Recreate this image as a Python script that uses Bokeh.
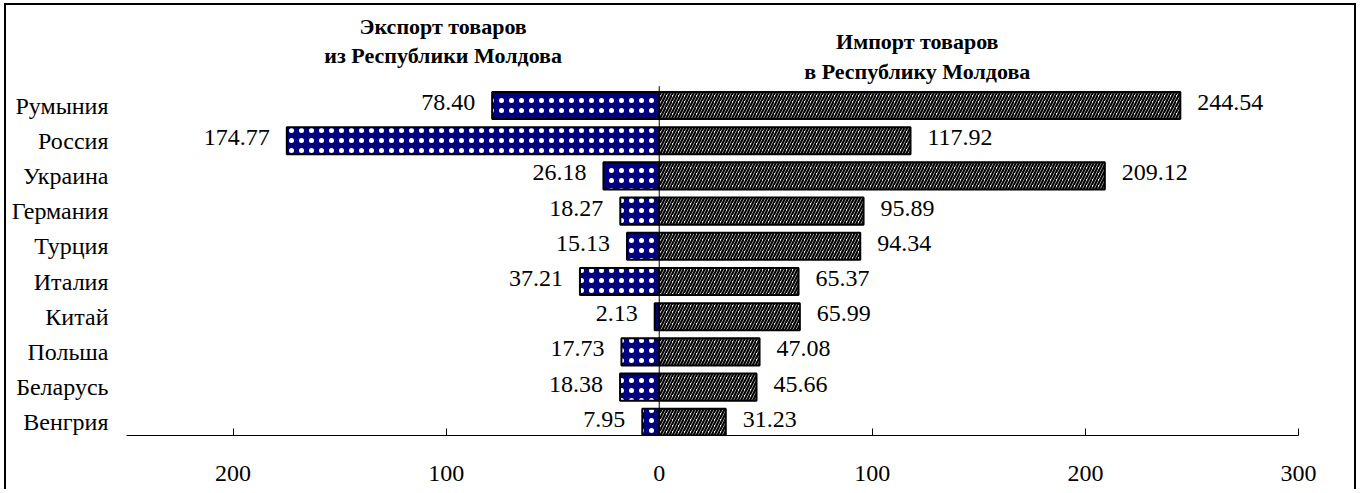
from bokeh.plotting import figure
from bokeh.models import Range1d, LinearAxis, FixedTicker, ColumnDataSource
from bokeh.core.properties import value
from bokeh.embed import file_html
from bokeh.resources import INLINE

countries = ["Румыния", "Россия", "Украина", "Германия", "Турция",
             "Италия", "Китай", "Польша", "Беларусь", "Венгрия"]
exports = [78.40, 174.77, 26.18, 18.27, 15.13, 37.21, 2.13, 17.73, 18.38, 7.95]
imports = [244.54, 117.92, 209.12, 95.89, 94.34, 65.37, 65.99, 47.08, 45.66, 31.23]
x_ticks = [-200, -100, 0, 100, 200, 300]
export_title = ["Экспорт товаров", "из Республики Молдова"]
import_title = ["Импорт товаров", "в Республику Молдова"]

FONT_NAME = "Times New Roman"
FONT = value(FONT_NAME)
idx = list(range(len(countries)))

src = ColumnDataSource(dict(
    y=idx,
    exp_left=[-v for v in exports],
    exp=exports,
    imp=imports,
    zero=[0] * len(idx),
    exp_lbl=[f"{v:.2f}" for v in exports],
    imp_lbl=[f"{v:.2f}" for v in imports],
))

p = figure(width=1352, height=486,
           x_range=Range1d(-250, 300), y_range=Range1d(9.375, -2.841),
           output_backend="svg", toolbar_location=None,
           x_axis_location=None, y_axis_location=None,
           min_border_left=120, min_border_right=60,
           min_border_top=0, min_border_bottom=56)
p.grid.visible = False
p.outline_line_color = None
p.background_fill_color = "white"
p.border_fill_color = "white"
p.styles = {"border-top": "2px solid black", "border-left": "2px solid black",
            "border-right": "2px solid black",
            "margin-left": "4px", "margin-top": "3px"}

# bars
p.hbar(y="y", left="exp_left", right="zero", height=0.77, source=src,
       fill_color="#000080", line_color="black", line_width=2,
       hatch_pattern="dot", hatch_color="white", hatch_scale=10, hatch_weight=1)
p.hbar(y="y", left="zero", right="imp", height=0.77, source=src,
       fill_color="white", line_color="black", line_width=2,
       hatch_pattern="right_diagonal_line", hatch_color="black",
       hatch_scale=6, hatch_weight=2.2)

# zero line
p.segment(x0=0, y0=-0.55, x1=0, y1=9.375, line_color="black", line_width=1)

# value labels
p.text(x="exp_left", y="y", text="exp_lbl", source=src, x_offset=-17, y_offset=-3,
       text_align="right", text_baseline="middle", text_font=FONT,
       text_font_size="24px", text_color="black")
p.text(x="imp", y="y", text="imp_lbl", source=src, x_offset=17, y_offset=-3,
       text_align="left", text_baseline="middle", text_font=FONT,
       text_font_size="24px", text_color="black")

# titles
p.text(x=[-101.4, -101.4], y=[-2.244, -1.420], text=export_title,
       text_align="center", text_baseline="alphabetic", text_font=FONT,
       text_font_size="22px", text_font_style="bold", text_color="black")
p.text(x=[121.1, 121.1], y=[-1.818, -0.966], text=import_title,
       text_align="center", text_baseline="alphabetic", text_font=FONT,
       text_font_size="22px", text_font_style="bold", text_color="black")

# axes
xaxis = LinearAxis(ticker=FixedTicker(ticks=x_ticks),
                   major_label_overrides={t: str(abs(t)) for t in x_ticks})
xaxis.major_tick_in = 7
xaxis.major_tick_out = 0
xaxis.minor_tick_line_color = None
xaxis.axis_line_color = "black"
xaxis.major_tick_line_color = "black"
xaxis.major_label_standoff = 30
xaxis.major_label_text_font = FONT_NAME
xaxis.major_label_text_font_size = "24px"
xaxis.major_label_text_color = "black"
p.add_layout(xaxis, "below")

yaxis = LinearAxis(ticker=FixedTicker(ticks=idx),
                   major_label_overrides={i: c for i, c in zip(idx, countries)})
yaxis.axis_line_color = None
yaxis.major_tick_line_color = None
yaxis.minor_tick_line_color = None
yaxis.major_tick_out = 0
yaxis.major_tick_in = 0
yaxis.major_label_standoff = 18
yaxis.major_label_text_font = FONT_NAME
yaxis.major_label_text_font_size = "24px"
yaxis.major_label_text_color = "black"
p.add_layout(yaxis, "left")

open("out.html", "w").write(file_html(p, INLINE))
